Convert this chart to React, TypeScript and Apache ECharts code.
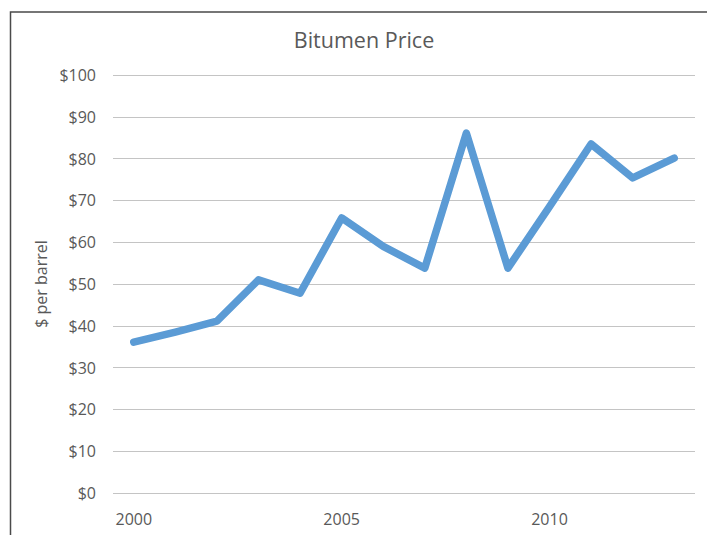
import React, { useEffect, useRef } from "react";
import * as echarts from "echarts";

const years = ["2000","2001","2002","2003","2004","2005","2006","2007","2008","2009","2010","2011","2012","2013"];
const prices = [36.1, 38.5, 41.1, 51.0, 47.8, 65.8, 59.0, 53.8, 86.1, 53.8, 68.5, 83.5, 75.4, 80.1];
const titleText = "Bitumen Price";
const yAxisName = "$ per barrel";

export default function App() {
  const ref = useRef<HTMLDivElement>(null);
  useEffect(() => {
    document.body.style.margin = "0";
    const chart = echarts.init(ref.current!, null, { renderer: "svg" });
    const font = "'Open Sans', 'Noto Sans', sans-serif";
    chart.setOption({
      animation: false,
      backgroundColor: "#ffffff",
      graphic: [
        {
          type: "rect",
          shape: { x: 10.5, y: 12, width: 900, height: 700 },
          style: { fill: "none", stroke: "#4a4a4a", lineWidth: 1.5 },
          silent: true,
        },
        {
          type: "text",
          x: 364,
          y: 39,
          style: {
            text: titleText,
            fontFamily: font,
            fontSize: 21.5,
            fill: "#595959",
            align: "center",
            verticalAlign: "middle",
          },
          silent: true,
        },
      ],
      grid: { left: 113, right: 12, top: 75, bottom: 42 },
      xAxis: {
        type: "category",
        data: years,
        boundaryGap: true,
        axisLine: { show: false },
        axisTick: { show: false },
        axisLabel: {
          interval: (i: number) => i % 5 === 0,
          margin: 18,
          fontFamily: font,
          fontSize: 16,
          color: "#595959",
        },
      },
      yAxis: {
        type: "value",
        min: 0,
        max: 100,
        interval: 10,
        name: yAxisName,
        nameLocation: "middle",
        nameGap: 60,
        nameTextStyle: { fontFamily: font, fontSize: 16, color: "#595959" },
        axisLine: { show: false },
        axisTick: { show: false },
        axisLabel: {
          formatter: (v: number) => "$" + v,
          margin: 17,
          fontFamily: font,
          fontSize: 16,
          color: "#595959",
        },
        splitLine: { lineStyle: { color: "#C4C4C4", width: 1 } },
      },
      series: [
        {
          type: "line",
          data: prices,
          symbol: "none",
          lineStyle: { color: "#5B9BD5", width: 7.5, cap: "round", join: "round" },
        },
      ],
    });
    return () => chart.dispose();
  }, []);
  return <div ref={ref} style={{ width: 707, height: 535 }} />;
}
